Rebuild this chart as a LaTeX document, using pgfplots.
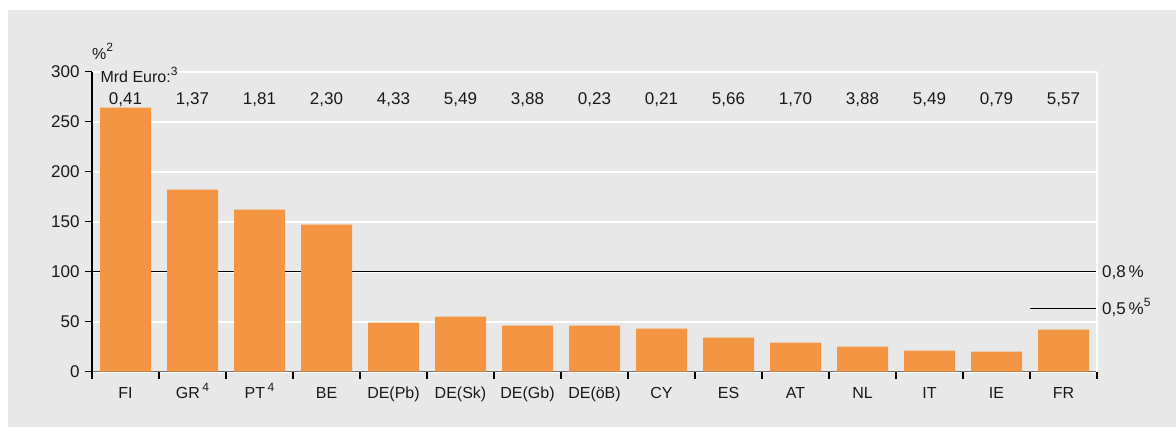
\documentclass[border=0pt]{standalone}
\usepackage{pgfplots}
\pgfplotsset{compat=1.18}
\usepackage{fontspec}
\setmainfont{Liberation Sans}
\definecolor{bg}{HTML}{E8E8E8}
\definecolor{barc}{HTML}{F39543}
\newcommand\fs{\fontsize{16}{19}\selectfont}
\newcommand\fn{\fontsize{17}{20}\selectfont}
\newcommand\supn[1]{\raisebox{0.45em}[0pt][0pt]{\fontsize{12}{13}\selectfont #1}}
\begin{document}
\fs
\begin{tikzpicture}
\fill[white] (0,0) rectangle (1176pt,427pt);
\fill[bg] (8pt,0) rectangle (1176pt,417pt);
\begin{axis}[
  at={(92pt,55.3pt)}, anchor=south west,
  scale only axis, width=1005pt, height=300pt,
  xmin=-0.5, xmax=14.5, ymin=0, ymax=300,
  axis x line*=bottom, axis y line*=left,
  x axis line style={color=black!55, line width=1.5pt, -},
  y axis line style={color=black, line width=1.6pt, -},
  ytick={0,50,...,300},
  ymajorgrids, major grid style={white, line width=1.8pt},
  tick align=outside, major tick length=7pt,
  major x tick style={draw=none},
  xtick={0,...,14},
  xticklabels={FI, GR\,\supn{4}, PT\,\supn{4}, BE, DE(Pb), DE(Sk), DE(Gb), DE(öB), CY, ES, AT, NL, IT, IE, FR},
  xticklabel style={yshift=-3pt, font=\fs},
  yticklabel style={font=\fn},
  minor xtick={-0.5,0.5,...,14.5}, minor tick length=7pt,
  minor x tick style={black, line width=1.4pt},
  y tick style={black, line width=1.4pt},
  tick label style={text=black!90},
  /pgf/number format/assume math mode=true,
  clip=false,
]
% 100 reference line (0,8 %) and 0,5 % line
\addplot[black, line width=1.6pt] coordinates {(-0.5,100) (14.5,100)};
\addplot[black, line width=1.6pt] coordinates {(13.5,63) (14.5,63)};
% bars
\addplot[ybar, bar width=51pt, fill=barc, draw=none] coordinates {
 (0,264) (1,182) (2,162) (3,147) (4,49) (5,55) (6,46) (7,46)
 (8,43) (9,34) (10,29) (11,25) (12,21) (13,20) (14,42)};
% value labels (Mrd Euro)
\addplot[draw=none, mark=none, nodes near coords, point meta=explicit symbolic,
  every node near coord/.style={anchor=center, font=\fn, text=black!90}]
  table[meta=lab] {
x y lab
0 272 0,41
1 272 1,37
2 272 1,81
3 272 2,30
4 272 4,33
5 272 5,49
6 272 3,88
7 272 0,23
8 272 0,21
9 272 5,66
10 272 1,70
11 272 3,88
12 272 5,49
13 272 0,79
14 272 5,57
};
\draw[white, line width=1.8pt] (axis cs:14.5,0) -- (axis cs:14.5,300);
\node[anchor=west, inner sep=1pt, fill=bg, font=\fs, text=black!90] at (axis cs:-0.39,294.5) {Mrd Euro:\supn{3}};
\node[anchor=west, inner sep=0pt, font=\fs, text=black!90] at (axis cs:-0.5,318) {\%\supn{2}};
\node[anchor=west, inner sep=0pt, font=\fn, text=black!90] at ([xshift=5pt]axis cs:14.5,99) {0,8\,\%};
\node[anchor=west, inner sep=0pt, font=\fn, text=black!90] at ([xshift=5pt]axis cs:14.5,62) {0,5\,\%\supn{5}};
\end{axis}
\end{tikzpicture}
\end{document}
